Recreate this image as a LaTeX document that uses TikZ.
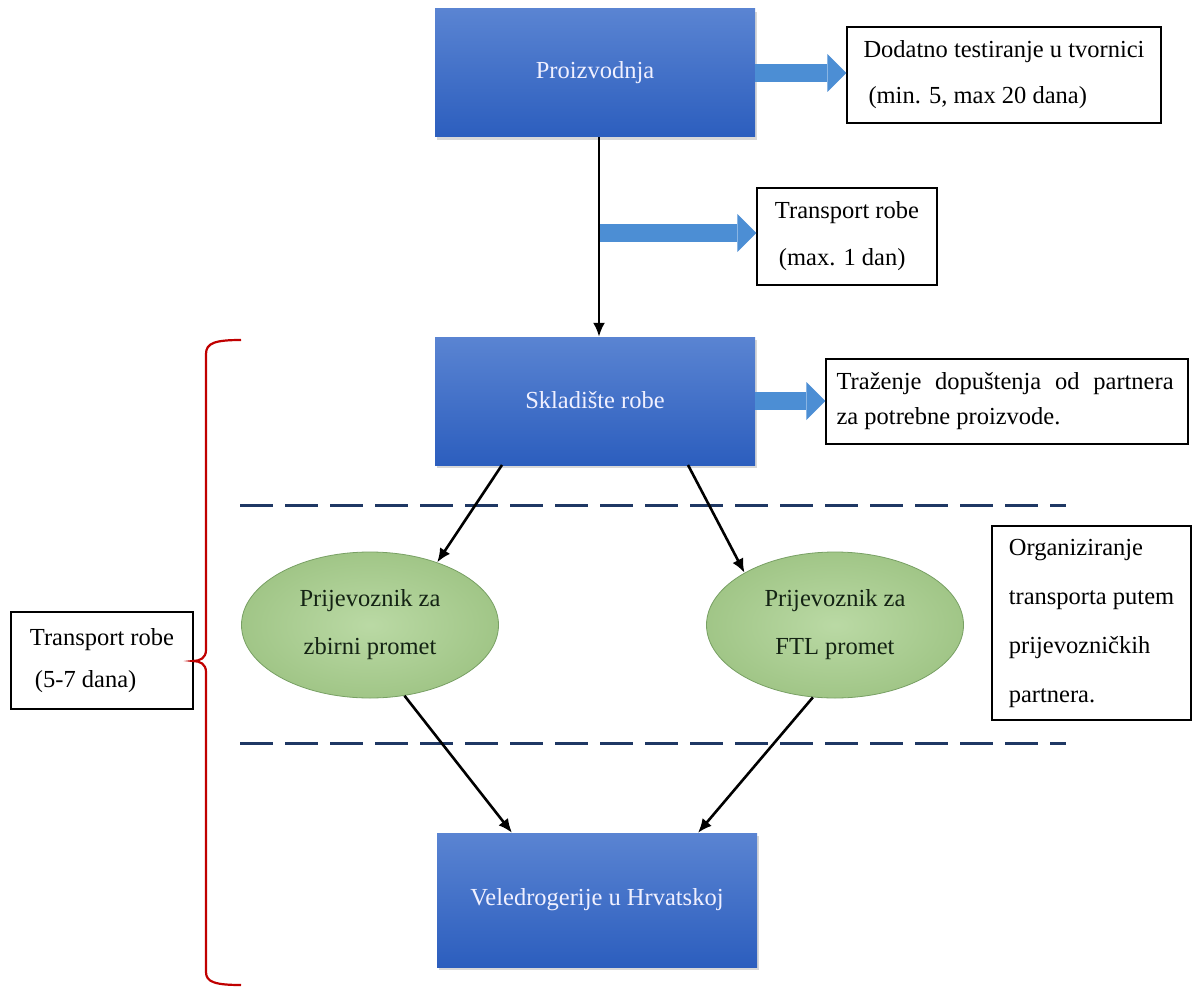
\documentclass[tikz,border=0pt]{standalone}
\usepackage{fontspec}
\setmainfont{Liberation Serif}
\usetikzlibrary{arrows.meta,shadows,shapes.geometric}
\definecolor{boxtop}{RGB}{90,132,210}
\definecolor{boxbot}{RGB}{44,94,190}
\definecolor{barrow}{RGB}{76,142,212}
\definecolor{navyline}{RGB}{31,56,100}
\definecolor{bracered}{RGB}{192,0,0}
\definecolor{ellfill}{RGB}{169,208,142}
\definecolor{elldraw}{RGB}{120,160,100}
\definecolor{elltext}{RGB}{20,35,20}
\begin{document}
\begin{tikzpicture}[x=1pt,y=-1pt,
  bluebox/.style={rectangle, minimum width=320pt, minimum height=128pt, inner sep=0pt,
    top color=boxtop, bottom color=boxbot, text=white!94!blue,
    font=\fontsize{24.5}{30}\selectfont,
    drop shadow={opacity=0.3, shadow xshift=2pt, shadow yshift=-3pt}},
  notebox/.style={rectangle, draw=black, line width=1.2pt, fill=white, inner sep=0pt, align=left},
  carrier/.style={ellipse, minimum width=257pt, minimum height=146pt, inner sep=0pt,
    inner color=ellfill!80!white, outer color=ellfill!95!black, draw=elldraw, line width=0.8pt, text=elltext, align=center,
    font=\fontsize{24.5}{48}\selectfont},
  flow/.style={draw=black, line width=2.6pt, -{Latex[length=14pt,width=12pt]}},
  blockarrow/.style={draw=barrow, line width=18pt, -{Triangle[length=19pt,width=38pt,line width=0pt]}},
  sepline/.style={draw=navyline, line width=3pt, dash pattern=on 33pt off 12pt},
]
\useasboundingbox[fill=white] (0,0) rectangle (1198,992);

% main blue boxes
\node[bluebox] (proiz) at (595,73) {\raisebox{3pt}{Proizvodnja}};
\node[bluebox] (sklad) at (595,401) {\raisebox{3pt}{Skladište robe}};
\node[bluebox, minimum height=134pt] (veled) at (597,900) {\raisebox{5pt}{Veledrogerije u Hrvatskoj}};

% note boxes
\node[notebox, minimum width=314pt, minimum height=96pt, font=\fontsize{24.5}{46}\selectfont] (dodatno) at (1004,75)
  {Dodatno testiranje u tvornici\\\hspace*{5pt}(min. 5, max 20 dana)};
\node[notebox, minimum width=180pt, minimum height=97pt, font=\fontsize{24.5}{47}\selectfont] (trbox) at (847,236.5)
  {Transport robe\\\hspace*{4pt}(max. 1 dan)};
\node[notebox, minimum width=362pt, minimum height=85pt, font=\fontsize{24.5}{35}\selectfont] (trazenje) at (1007,401.5)
  {\makebox[337pt][s]{Traženje\hfill dopuštenja\hfill od\hfill partnera}\\za potrebne proizvode.\hspace*{117pt}};
\node[notebox, minimum width=199pt, minimum height=194pt, font=\fontsize{24.5}{49}\selectfont] (organ) at (1091.5,623)
  {Organiziranje\\transporta putem\\prijevozničkih\\partnera.};
\node[notebox, minimum width=182pt, minimum height=97pt, font=\fontsize{24.5}{42}\selectfont] (trleft) at (102,660.5)
  {Transport robe\\\hspace*{5pt}(5-7 dana)};

% carriers
\node[carrier] (zbirni) at (370,625) {Prijevoznik za\\zbirni promet};
\node[carrier] (ftl) at (835,625) {Prijevoznik za\\FTL promet};

% dashed separators
\coordinate (d1a) at (240,505); \coordinate (d1b) at (1066,505);
\coordinate (d2a) at (240,743); \coordinate (d2b) at (1066,743);
\draw[sepline] (d1a) -- (d1b);
\draw[sepline] (d2a) -- (d2b);

% block arrows
\draw[blockarrow] (proiz.east) -- (proiz.east -| dodatno.west);
\coordinate (tstart) at (599,233);
\draw[blockarrow] (tstart) -- (tstart -| trbox.west);
\draw[blockarrow] (sklad.east) -- (sklad.east -| trazenje.west);

% flow arrows
\draw[flow] ([xshift=4pt]proiz.south) -- ([xshift=4pt]sklad.north);
\coordinate (s1) at (502,465);
\coordinate (s2) at (688,465);
\draw[flow] (s1) -- (zbirni.43);
\draw[flow] (s2) -- (ftl.150);
\draw[flow] (zbirni.-64) -- ([xshift=-85pt]veled.north);
\draw[flow] (ftl.-107) -- ([xshift=101pt]veled.north);

% brace
\draw[bracered, line width=2.2pt]
  (241,340) .. controls (215,340) and (206,343) .. (206,354) -- (206,650)
  .. controls (206,658) and (200,661) .. (193,661)
  .. controls (200,661) and (206,664) .. (206,672) -- (206,972)
  .. controls (206,982) and (215,985) .. (241,985);
\end{tikzpicture}
\end{document}
